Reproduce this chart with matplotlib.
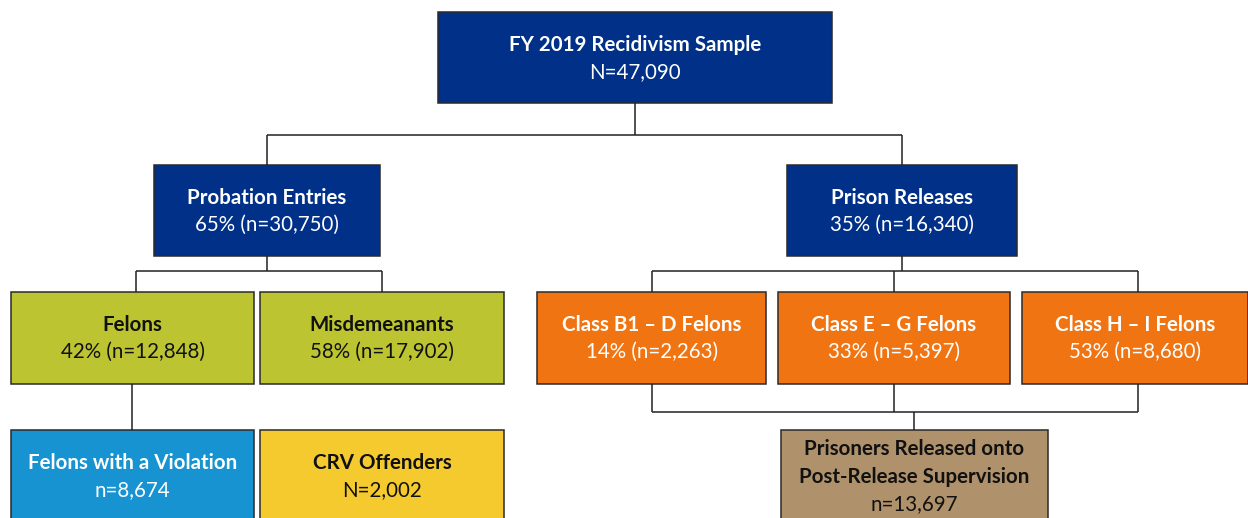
import matplotlib.pyplot as plt
from matplotlib.patches import Rectangle

plt.rcParams['font.family'] = ['Lato', 'DejaVu Sans']

# node labels (bold title, detail line)
titles = ["FY 2019 Recidivism Sample", "Probation Entries", "Prison Releases",
          "Felons", "Misdemeanants",
          "Class B1 \u2013 D Felons", "Class E \u2013 G Felons", "Class H \u2013 I Felons",
          "Felons with a Violation", "CRV Offenders",
          "Prisoners Released onto\nPost-Release Supervision"]
details = ["N=47,090", "65% (n=30,750)", "35% (n=16,340)",
           "42% (n=12,848)", "58% (n=17,902)",
           "14% (n=2,263)", "33% (n=5,397)", "53% (n=8,680)",
           "n=8,674", "N=2,002", "n=13,697"]
# box geometry in pixels: x0, y0, x1, y1
boxes = [(438, 12, 832, 103), (154, 165, 380, 256), (787, 165, 1017, 256),
         (11, 292, 254, 384), (260, 292, 504, 384),
         (537, 292, 766, 384), (778, 292, 1010, 384), (1022, 292, 1248, 384),
         (11, 430, 254, 540), (260, 430, 504, 540), (781, 430, 1048, 540)]
fills = ["#003087", "#003087", "#003087",
         "#BCC531", "#BCC531",
         "#F07411", "#F07411", "#F07411",
         "#1893D1", "#F5CA2E", "#AF926B"]
text_col = ["white"] * 3 + ["#111111"] * 2 + ["white"] * 3 + ["white", "#111111", "#111111"]

fs = 14.8
fig = plt.figure(figsize=(12.48, 5.18), dpi=100)
ax = fig.add_axes([0, 0, 1, 1])
ax.set_xlim(0, 1248)
ax.set_ylim(518, 0)
ax.axis('off')

lc = "#222222"
def line(xs, ys):
    ax.plot(xs, ys, color=lc, lw=1.1, solid_capstyle='butt')

# connectors
line([635, 635], [103, 135]); line([267, 902], [135, 135])
line([267, 267], [135, 165]); line([902, 902], [135, 165])
line([267, 267], [256, 271]); line([136, 382], [271, 271])
line([136, 136], [271, 292]); line([382, 382], [271, 292])
line([902, 902], [256, 271]); line([652, 1138], [271, 271])
line([652, 652], [271, 292]); line([894, 894], [271, 292]); line([1138, 1138], [271, 292])
line([132, 132], [384, 430])
line([652, 652], [384, 412]); line([894, 894], [384, 412]); line([1138, 1138], [384, 412])
line([652, 1138], [412, 412]); line([914, 914], [412, 430])

for (x0, y0, x1, y1), t, d, fc, tc in zip(boxes, titles, details, fills, text_col):
    ax.add_patch(Rectangle((x0, y0), x1 - x0, y1 - y0, facecolor=fc,
                           edgecolor="#2a2a2a", lw=1.1))
    cx = (x0 + x1) / 2
    if "\n" in t:
        l1, l2 = t.split("\n")
        ax.text(cx, 449, l1, ha='center', va='center', fontsize=fs, fontweight='bold', color=tc)
        ax.text(cx, 477, l2, ha='center', va='center', fontsize=fs, fontweight='bold', color=tc)
        ax.text(cx, 504, d, ha='center', va='center', fontsize=fs, color=tc)
    else:
        ty = y0 + 33
        ax.text(cx, ty, t, ha='center', va='center', fontsize=fs, fontweight='bold', color=tc)
        ax.text(cx, ty + 27, d, ha='center', va='center', fontsize=fs, color=tc)

fig.savefig("out.png", dpi=100)
